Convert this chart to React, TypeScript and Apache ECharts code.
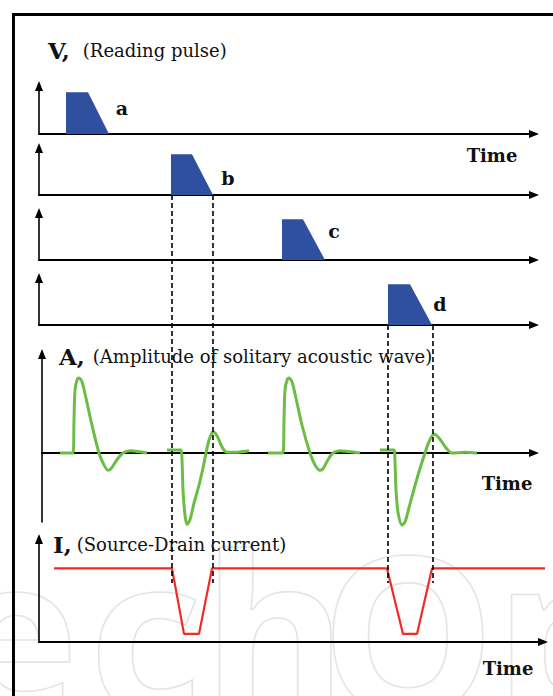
import React, { useEffect, useRef } from "react";
import * as echarts from "echarts";

// ---------- data (time in arbitrary units) ----------
const pulseLabels = ["a", "b", "c", "d"];
const pulseA = [[27, 0], [27, 1], [49, 1], [70, 0]];
const pulseB = [[132, 0], [132, 1], [153, 1], [174, 0]];
const pulseC = [[243, 0], [243, 1], [264, 1], [286, 0]];
const pulseD = [[349, 0], [349, 1], [371, 1], [393, 0]];

// solitary acoustic wave (amplitude)
const waveA = [
  [21, 0], [34, 0], [35, 0.44], [36, 0.84], [38, 0.97], [40, 1.0], [43, 0.95], [47, 0.73],
  [53, 0.37], [60, 0], [65, -0.16], [69, -0.23], [72, -0.21], [78, -0.09], [84, 0],
  [91, 0.03], [99, 0.02], [108, 0],
];
const waveB = [
  [128, 0.04], [142, 0.04], [143, -0.09], [144, -0.49], [146, -0.83], [148, -0.95],
  [151, -0.89], [155, -0.67], [160, -0.43], [164, -0.2], [167, 0], [170, 0.17], [174, 0.28],
  [178, 0.23], [183, 0.08], [188, 0.01], [196, 0.01], [210, 0.03],
];
const waveC = [
  [229, 0], [244, 0], [245, 0.44], [246, 0.84], [248, 0.97], [250, 1.0], [253, 0.95], [257, 0.73],
  [263, 0.37], [271, 0], [276, -0.16], [281, -0.23], [284, -0.21], [289, -0.09], [294, 0],
  [301, 0.03], [309, 0.02], [321, 0],
];
const waveD = [
  [341, 0.04], [355, 0.04], [356, -0.12], [357, -0.49], [359, -0.79], [363, -0.96],
  [366, -0.92], [370, -0.73], [374, -0.53], [380, -0.25], [386, 0], [390, 0.15], [395, 0.25],
  [400, 0.2], [407, 0.07], [413, 0], [426, 0.01], [438, 0],
];

// source-drain current
const current = [
  [15, 1], [133, 1], [145, 0.11], [160, 0.11], [173, 1],
  [348, 1], [364, 0.11], [378, 0.11], [393, 1], [511, 1],
];

// dashed guide lines (time, top fraction)
const guideTimes = [133, 174, 349, 394];
const guideTops = [1, 1, 0.665, 0.665];

const titles = [
  { bold: "V,", text: "(Reading pulse)" },
  { bold: "A,", text: "(Amplitude of solitary acoustic wave)" },
  { bold: "I,", text: "(Source-Drain current)" },
];
const timeLabel = "Time";

const SERIF = "'DejaVu Serif', 'Liberation Serif', serif";
const BLUE = "#2f4f9f";
const GREEN = "#6cbd45";
const RED = "#ee2b24";

function axisPair(idx: number, xmin: number, xmax: number, ymin: number, ymax: number, showX = true, showY = true) {
  const common = {
    gridIndex: idx,
    axisTick: { show: false },
    axisLabel: { show: false },
    splitLine: { show: false },
  };
  return {
    x: {
      ...common,
      type: "value",
      min: xmin,
      max: xmax,
      axisLine: {
        show: showX,
        onZero: true,
        symbol: ["none", "triangle"],
        symbolSize: [8, 10],
        lineStyle: { color: "#000", width: 2 },
      },
    },
    y: {
      ...common,
      type: "value",
      min: ymin,
      max: ymax,
      axisLine: {
        show: showY,
        onZero: false,
        symbol: ["none", "triangle"],
        symbolSize: [8, 10],
        lineStyle: { color: "#000", width: 1.6 },
      },
    },
  };
}

export default function App() {
  const ref = useRef<HTMLDivElement>(null);

  useEffect(() => {
    if (!ref.current) return;
    const chart = echarts.init(ref.current, undefined, { renderer: "svg" });

    const grids: any[] = [
      { left: 39, top: 86, width: 495, height: 48 },
      { left: 39, top: 148, width: 495, height: 47 },
      { left: 39, top: 213, width: 495, height: 47 },
      { left: 39, top: 278, width: 495, height: 47 },
      { left: 42, top: 354, width: 492, height: 168 },
      { left: 39, top: 539, width: 504, height: 103 },
      { left: 39, top: 195, width: 495, height: 388 },
    ];
    const axes = [
      axisPair(0, 0, 495, 0, 1.15),
      axisPair(1, 0, 495, 0, 1.15),
      axisPair(2, 0, 495, 0, 1.15),
      axisPair(3, 0, 495, 0, 1.15),
      axisPair(4, 3, 495, -0.92, 1.32),
      axisPair(5, 0, 504, 0, 1.4),
      axisPair(6, 0, 495, 0, 1, false, false),
    ];

    const pulses = [pulseA, pulseB, pulseC, pulseD];
    const series: any[] = [];
    pulses.forEach((p, i) => {
      series.push({
        type: "line",
        name: "pulse " + pulseLabels[i],
        xAxisIndex: i,
        yAxisIndex: i,
        data: p,
        symbol: "none",
        lineStyle: { width: 0 },
        areaStyle: { color: BLUE, opacity: 1 },
        z: 3,
      });
    });
    [waveA, waveB, waveC, waveD].forEach((w, i) => {
      series.push({
        type: "line",
        name: "wave " + i,
        xAxisIndex: 4,
        yAxisIndex: 4,
        data: w,
        symbol: "none",
        smooth: 0.3,
        clip: false,
        lineStyle: { color: GREEN, width: 3 },
        z: 3,
      });
    });
    series.push({
      type: "line",
      name: "current",
      xAxisIndex: 5,
      yAxisIndex: 5,
      data: current,
      symbol: "none",
      clip: false,
      lineStyle: { color: RED, width: 2.2 },
      z: 3,
    });
    guideTimes.forEach((t, i) => {
      series.push({
        type: "line",
        name: "guide " + i,
        xAxisIndex: 6,
        yAxisIndex: 6,
        data: [[t, guideTops[i]], [t, 0]],
        symbol: "none",
        clip: false,
        lineStyle: { color: "#000", width: 1.6, type: [5, 3] },
        z: 4,
      });
    });

    const titleTops = [38.5, 344, 532];
    const titleLefts = [48, 59, 53];
    const titleGaps = [13, 8, 5];
    const titleOpts = titles.map((t, i) => ({
      text: `{b|${t.bold}}{r|${t.text}}`,
      left: titleLefts[i],
      top: titleTops[i],
      padding: 0,
      textStyle: {
        fontWeight: "normal",
        fontFamily: SERIF,
        rich: {
          b: { fontFamily: SERIF, fontSize: 23, fontWeight: "bold", color: "#111", lineHeight: 24 },
          r: {
            fontFamily: SERIF,
            fontSize: 18,
            fontWeight: "normal",
            color: "#111",
            padding: [0, 0, 0, titleGaps[i]],
            lineHeight: 24,
          },
        },
      },
    }));

    const labelPos = [[122, 108], [228, 178], [334, 231], [440, 304]];
    const timePos = [[492, 155], [507, 483], [508, 668]];

    const wmLetters = ["e", "c", "h", "O", "p"];
    const wmX = [14, 145, 275, 408, 565];

    const graphic: any[] = [];
    wmLetters.forEach((l, i) => {
      graphic.push({
        type: "text",
        x: wmX[i],
        y: 628,
        z: -10,
        silent: true,
        style: {
          text: l,
          font: "bold 220px 'Noto Sans', sans-serif",
          fill: "none",
          stroke: "#e4e4e4",
          lineWidth: 1.6,
          align: "center",
          verticalAlign: "middle",
        },
      });
    });
    graphic.push({
      type: "rect",
      z: 100,
      shape: { x: 13.5, y: 14.5, width: 700, height: 800 },
      style: { fill: "none", stroke: "#000", lineWidth: 3 },
    });
    pulseLabels.forEach((l, i) => {
      graphic.push({
        type: "text",
        x: labelPos[i][0],
        y: labelPos[i][1],
        z: 100,
        style: {
          text: l,
          font: `bold 19px ${SERIF}`,
          fill: "#111",
          align: "center",
          verticalAlign: "middle",
        },
      });
    });
    timePos.forEach((p) => {
      graphic.push({
        type: "text",
        x: p[0],
        y: p[1],
        z: 100,
        style: {
          text: timeLabel,
          font: `bold 18px ${SERIF}`,
          fill: "#111",
          align: "center",
          verticalAlign: "middle",
        },
      });
    });

    chart.setOption({
      animation: false,
      backgroundColor: "#fff",
      title: titleOpts,
      grid: grids,
      xAxis: axes.map((a) => a.x),
      yAxis: axes.map((a) => a.y),
      series,
      graphic,
    });

    return () => chart.dispose();
  }, []);

  return (
    <div
      ref={ref}
      style={{ position: "absolute", left: 0, top: 0, width: 553, height: 696, background: "#fff" }}
    />
  );
}
